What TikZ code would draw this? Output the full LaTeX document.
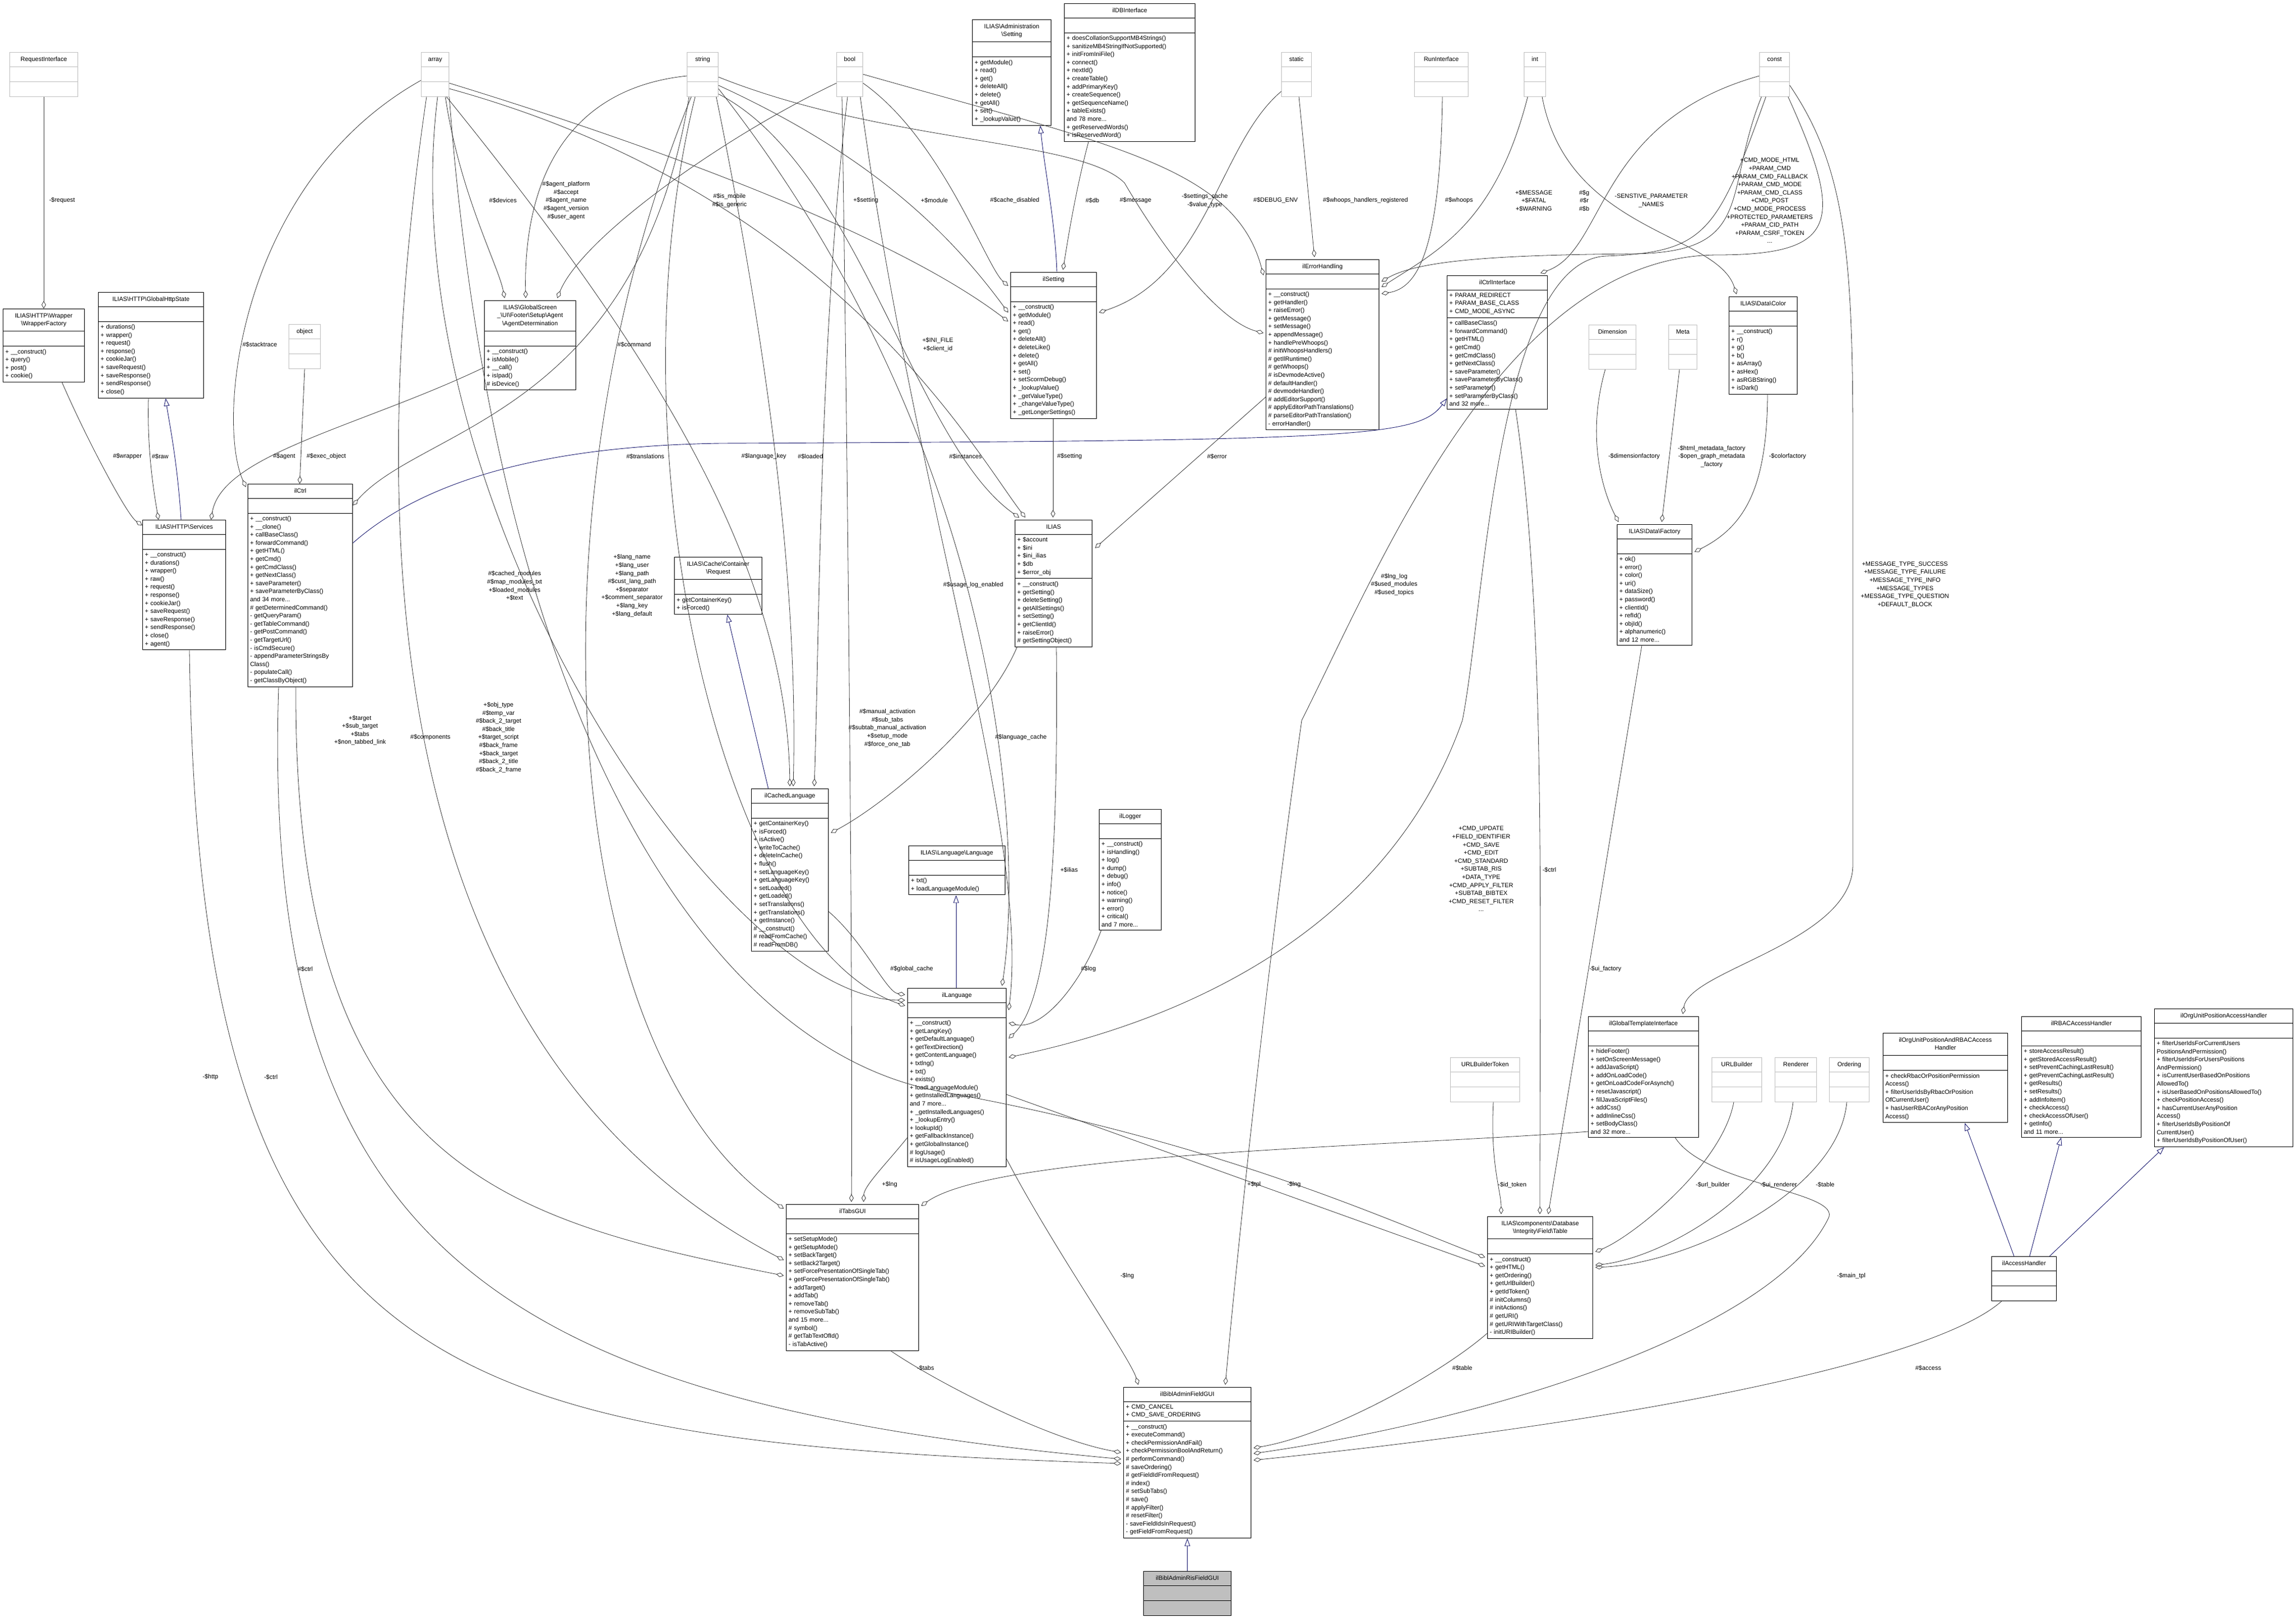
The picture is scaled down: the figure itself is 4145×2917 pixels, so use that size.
\documentclass[tikz,border=0pt]{standalone}
\usepackage{fontspec}
\setmainfont{Liberation Sans}
\usetikzlibrary{shapes.multipart,arrows.meta,calc}
\newcommand\fs{\fontsize{11}{14.6}\selectfont}
\newcommand\bs{\textbackslash{}}
\newcommand\E{\rule{0pt}{16pt}}
\newcommand\T[1]{\makebox[\linewidth][c]{\begin{tabular}{@{}c@{}}#1\end{tabular}}}
\definecolor{midnight}{RGB}{25,25,112}
\definecolor{gbord}{RGB}{191,191,191}
\tikzset{
 cls/.style={draw=black, fill=white, rectangle split, rectangle split parts=3, anchor=north west, inner xsep=4pt, inner ysep=5pt, font=\fs, align=left, line width=1pt},
 gcls/.style={cls, draw=gbord},
 agg/.style={draw=black!80, line width=0.8pt, -{Diamond[open,length=14pt,width=8pt]}},
 inh/.style={draw=midnight, line width=0.9pt, -{Triangle[open,length=14pt,width=10pt]}},
 lbl/.style={font=\fs, align=center, inner sep=0pt}
}
\begin{document}
\begin{tikzpicture}[x=1pt,y=-1pt]
\useasboundingbox[fill=white] (0,0) rectangle (4145,2917);
% ---- gray type boxes
\node[gcls,text width=115pt] (reqi) at (17,94) {\T{RequestInterface}\nodepart{two}\E\nodepart{three}\E};
\node[gcls,text width=42pt] (array) at (760,94) {\T{array}\nodepart{two}\E\nodepart{three}\E};
\node[gcls,text width=48pt] (string) at (1240,94) {\T{string}\nodepart{two}\E\nodepart{three}\E};
\node[gcls,text width=39pt] (bool) at (1510,94) {\T{bool}\nodepart{two}\E\nodepart{three}\E};
\node[gcls,text width=46pt] (static) at (2313,94) {\T{static}\nodepart{two}\E\nodepart{three}\E};
\node[gcls,text width=89pt] (runi) at (2553,94) {\T{RunInterface}\nodepart{two}\E\nodepart{three}\E};
\node[gcls,text width=31pt] (int) at (2751,94) {\T{int}\nodepart{two}\E\nodepart{three}\E};
\node[gcls,text width=46pt] (const) at (3176,94) {\T{const}\nodepart{two}\E\nodepart{three}\E};
\node[gcls,text width=49pt] (object) at (521,585) {\T{object}\nodepart{two}\E\nodepart{three}\E};
\node[gcls,text width=77pt] (dim) at (2868,586) {\T{Dimension}\nodepart{two}\E\nodepart{three}\E};
\node[gcls,text width=43pt] (meta) at (3012,586) {\T{Meta}\nodepart{two}\E\nodepart{three}\E};
\node[gcls,text width=117pt] (ubt) at (2618,1908) {\T{URLBuilderToken}\nodepart{two}\E\nodepart{three}\E};
\node[gcls,text width=82pt] (ub) at (3090,1908) {\T{URLBuilder}\nodepart{two}\E\nodepart{three}\E};
\node[gcls,text width=67pt] (rend) at (3204,1908) {\T{Renderer}\nodepart{two}\E\nodepart{three}\E};
\node[gcls,text width=64pt] (ord) at (3302,1908) {\T{Ordering}\nodepart{two}\E\nodepart{three}\E};
% ---- classes
\node[cls,text width=139pt] (wf) at (5,557) {\T{ILIAS\bs HTTP\bs Wrapper\\\bs WrapperFactory}\nodepart{two}\E\nodepart{three}+ \_\_construct()\\+ query()\\+ post()\\+ cookie()};
\node[cls,text width=182pt] (ghs) at (177,527) {\T{ILIAS\bs HTTP\bs GlobalHttpState}\nodepart{two}\E\nodepart{three}+ durations()\\+ wrapper()\\+ request()\\+ response()\\+ cookieJar()\\+ saveRequest()\\+ saveResponse()\\+ sendResponse()\\+ close()};
\node[cls,text width=157pt] (agent) at (874,542) {\T{ILIAS\bs GlobalScreen\\\_\bs UI\bs Footer\bs Setup\bs Agent\\\bs AgentDetermination}\nodepart{two}\E\nodepart{three}+ \_\_construct()\\+ isMobile()\\+ \_\_call()\\+ isIpad()\\\# isDevice()};
\node[cls,text width=181pt] (ctrl) at (447,873) {\T{ilCtrl}\nodepart{two}\E\nodepart{three}+ \_\_construct()\\+ \_\_clone()\\+ callBaseClass()\\+ forwardCommand()\\+ getHTML()\\+ getCmd()\\+ getCmdClass()\\+ getNextClass()\\+ saveParameter()\\+ saveParameterByClass()\\and 34 more...\\\# getDeterminedCommand()\\- getQueryParam()\\- getTableCommand()\\- getPostCommand()\\- getTargetUrl()\\- isCmdSecure()\\- appendParameterStringsBy\\Class()\\- populateCall()\\- getClassByObject()};
\node[cls,text width=142pt] (http) at (257,938) {\T{ILIAS\bs HTTP\bs Services}\nodepart{two}\E\nodepart{three}+ \_\_construct()\\+ durations()\\+ wrapper()\\+ raw()\\+ request()\\+ response()\\+ cookieJar()\\+ saveRequest()\\+ saveResponse()\\+ sendResponse()\\+ close()\\+ agent()};
\node[cls,text width=150pt] (creq) at (1217,1005) {\T{ILIAS\bs Cache\bs Container\\\bs Request}\nodepart{two}\E\nodepart{three}+ getContainerKey()\\+ isForced()};
\node[cls,text width=134pt] (aset) at (1755,35) {\T{ILIAS\bs Administration\\\bs Setting}\nodepart{two}\E\nodepart{three}+ getModule()\\+ read()\\+ get()\\+ deleteAll()\\+ delete()\\+ getAll()\\+ set()\\+ \_lookupValue()};
\node[cls,text width=228pt] (db) at (1921,6) {\T{ilDBInterface}\nodepart{two}\E\nodepart{three}+ doesCollationSupportMB4Strings()\\+ sanitizeMB4StringIfNotSupported()\\+ initFromIniFile()\\+ connect()\\+ nextId()\\+ createTable()\\+ addPrimaryKey()\\+ createSequence()\\+ getSequenceName()\\+ tableExists()\\and 78 more...\\+ getReservedWords()\\+ isReservedWord()};
\node[cls,text width=147pt] (set) at (1824,491) {\T{ilSetting}\nodepart{two}\E\nodepart{three}+ \_\_construct()\\+ getModule()\\+ read()\\+ get()\\+ deleteAll()\\+ deleteLike()\\+ delete()\\+ getAll()\\+ set()\\+ setScormDebug()\\+ \_lookupValue()\\+ \_getValueType()\\+ \_changeValueType()\\+ \_getLongerSettings()};
\node[cls,text width=196pt] (eh) at (2285,468) {\T{ilErrorHandling}\nodepart{two}\E\nodepart{three}+ \_\_construct()\\+ getHandler()\\+ raiseError()\\+ getMessage()\\+ setMessage()\\+ appendMessage()\\+ handlePreWhoops()\\\# initWhoopsHandlers()\\\# getIlRuntime()\\\# getWhoops()\\\# isDevmodeActive()\\\# defaultHandler()\\\# devmodeHandler()\\\# addEditorSupport()\\\# applyEditorPathTranslations()\\\# parseEditorPathTranslation()\\- errorHandler()};
\node[cls,text width=131pt] (ilias) at (1832,938) {\T{ILIAS}\nodepart{two}+ \$account\\+ \$ini\\+ \$ini\_ilias\\+ \$db\\+ \$error\_obj\nodepart{three}+ \_\_construct()\\+ getSetting()\\+ deleteSetting()\\+ getAllSettings()\\+ setSetting()\\+ getClientId()\\+ raiseError()\\\# getSettingObject()};
\node[cls,text width=173pt] (ctrli) at (2612,497) {\T{ilCtrlInterface}\nodepart{two}+ PARAM\_REDIRECT\\+ PARAM\_BASE\_CLASS\\+ CMD\_MODE\_ASYNC\nodepart{three}+ callBaseClass()\\+ forwardCommand()\\+ getHTML()\\+ getCmd()\\+ getCmdClass()\\+ getNextClass()\\+ saveParameter()\\+ saveParameterByClass()\\+ setParameter()\\+ setParameterByClass()\\and 32 more...};
\node[cls,text width=115pt] (color) at (3121,535) {\T{ILIAS\bs Data\bs Color}\nodepart{two}\E\nodepart{three}+ \_\_construct()\\+ r()\\+ g()\\+ b()\\+ asArray()\\+ asHex()\\+ asRGBString()\\+ isDark()};
\node[cls,text width=127pt] (fac) at (2919,946) {\T{ILIAS\bs Data\bs Factory}\nodepart{two}\E\nodepart{three}+ ok()\\+ error()\\+ color()\\+ uri()\\+ dataSize()\\+ password()\\+ clientId()\\+ refId()\\+ objId()\\+ alphanumeric()\\and 12 more...};
\node[cls,text width=131pt] (cl) at (1356,1423) {\T{ilCachedLanguage}\nodepart{two}\E\nodepart{three}+ getContainerKey()\\+ isForced()\\+ isActive()\\+ writeToCache()\\+ deleteInCache()\\+ flush()\\+ setLanguageKey()\\+ getLanguageKey()\\+ setLoaded()\\+ getLoaded()\\+ setTranslations()\\+ getTranslations()\\+ getInstance()\\\# \_\_construct()\\\# readFromCache()\\\# readFromDB()};
\node[cls,text width=166pt] (ll) at (1640,1526) {\T{ILIAS\bs Language\bs Language}\nodepart{two}\E\nodepart{three}+ txt()\\+ loadLanguageModule()};
\node[cls,text width=104pt] (log) at (1984,1460) {\T{ilLogger}\nodepart{two}\E\nodepart{three}+ \_\_construct()\\+ isHandling()\\+ log()\\+ dump()\\+ debug()\\+ info()\\+ notice()\\+ warning()\\+ error()\\+ critical()\\and 7 more...};
\node[cls,text width=170pt] (lng) at (1638,1783) {\T{ilLanguage}\nodepart{two}\E\nodepart{three}+ \_\_construct()\\+ getLangKey()\\+ getDefaultLanguage()\\+ getTextDirection()\\+ getContentLanguage()\\+ txtlng()\\+ txt()\\+ exists()\\+ loadLanguageModule()\\+ getInstalledLanguages()\\and 7 more...\\+ \_getInstalledLanguages()\\+ \_lookupEntry()\\+ lookupId()\\+ getFallbackInstance()\\+ getGlobalInstance()\\\# logUsage()\\\# isUsageLogEnabled()};
\node[cls,text width=231pt] (tabs) at (1419,2173) {\T{ilTabsGUI}\nodepart{two}\E\nodepart{three}+ setSetupMode()\\+ getSetupMode()\\+ setBackTarget()\\+ setBack2Target()\\+ setForcePresentationOfSingleTab()\\+ getForcePresentationOfSingleTab()\\+ addTarget()\\+ addTab()\\+ removeTab()\\+ removeSubTab()\\and 15 more...\\\# symbol()\\\# getTabTextOfId()\\- isTabActive()};
\node[cls,text width=222pt] (bibl) at (2028,2503) {\T{ilBiblAdminFieldGUI}\nodepart{two}+ CMD\_CANCEL\\+ CMD\_SAVE\_ORDERING\nodepart{three}+ \_\_construct()\\+ executeCommand()\\+ checkPermissionAndFail()\\+ checkPermissionBoolAndReturn()\\\# performCommand()\\\# saveOrdering()\\\# getFieldIdFromRequest()\\\# index()\\\# setSubTabs()\\\# save()\\\# applyFilter()\\\# resetFilter()\\- saveFieldIdsInRequest()\\- getFieldFromRequest()};
\node[cls,fill=gbord,text width=150pt] (ris) at (2064,2835) {\T{ilBiblAdminRisFieldGUI}\nodepart{two}\E\nodepart{three}\E};
\node[cls,text width=182pt] (tbl) at (2685,2195) {\T{ILIAS\bs components\bs Database\\\bs Integrity\bs Field\bs Table}\nodepart{two}\E\nodepart{three}+ \_\_construct()\\+ getHTML()\\+ getOrdering()\\+ getUrlBuilder()\\+ getIdToken()\\\# initColumns()\\\# initActions()\\\# getURI()\\\# getURIWithTargetClass()\\- initURIBuilder()};
\node[cls,text width=191pt] (gti) at (2867,1834) {\T{ilGlobalTemplateInterface}\nodepart{two}\E\nodepart{three}+ hideFooter()\\+ setOnScreenMessage()\\+ addJavaScript()\\+ addOnLoadCode()\\+ getOnLoadCodeForAsynch()\\+ resetJavascript()\\+ fillJavaScriptFiles()\\+ addCss()\\+ addInlineCss()\\+ setBodyClass()\\and 32 more...};
\node[cls,text width=217pt] (orgrbac) at (3399,1864) {\T{ilOrgUnitPositionAndRBACAccess\\Handler}\nodepart{two}\E\nodepart{three}+ checkRbacOrPositionPermission\\Access()\\+ filterUserIdsByRbacOrPosition\\OfCurrentUser()\\+ hasUserRBACorAnyPosition\\Access()};
\node[cls,text width=208pt] (rbac) at (3649,1834) {\T{ilRBACAccessHandler}\nodepart{two}\E\nodepart{three}+ storeAccessResult()\\+ getStoredAccessResult()\\+ setPreventCachingLastResult()\\+ getPreventCachingLastResult()\\+ getResults()\\+ setResults()\\+ addInfoItem()\\+ checkAccess()\\+ checkAccessOfUser()\\+ getInfo()\\and 11 more...};
\node[cls,text width=242pt] (orgpos) at (3889,1820) {\T{ilOrgUnitPositionAccessHandler}\nodepart{two}\E\nodepart{three}+ filterUserIdsForCurrentUsers\\PositionsAndPermission()\\+ filterUserIdsForUsersPositions\\AndPermission()\\+ isCurrentUserBasedOnPositions\\AllowedTo()\\+ isUserBasedOnPositionsAllowedTo()\\+ checkPositionAccess()\\+ hasCurrentUserAnyPosition\\Access()\\+ filterUserIdsByPositionOf\\CurrentUser()\\+ filterUserIdsByPositionOfUser()};
\node[cls,text width=109pt] (ah) at (3595,2267) {\T{ilAccessHandler}\nodepart{two}\E\nodepart{three}\E};
% ---- inheritance
\draw[inh] ($(http.north west)+(70,0)$) .. controls (320,830) and (305,760) .. ($(ghs.south west)+(122,0)$);
\draw[inh] ($(ctrl.north east)+(0,107)$) .. controls (750,880) and (950,805) .. (1300,800) .. controls (2450,795) and (2560,790) .. ($(ctrli.north west)+(0,222)$);
\draw[inh] ($(set.north west)+(84,0)$) .. controls (1905,400) and (1885,300) .. ($(aset.south west)+(123,0)$);
\draw[inh] ($(cl.north west)+(31,0)$) -- ($(creq.south west)+(96,0)$);
\draw[inh] ($(lng.north west)+(88,0)$) -- ($(ll.south west)+(86,0)$);
\draw[inh] (ris.north) -- (bibl.south);
\draw[inh] ($(ah.north west)+(41,0)$) -- ($(orgrbac.south west)+(148,0)$);
\draw[inh] ($(ah.north west)+(69,0)$) -- ($(rbac.south west)+(72,0)$);
\draw[inh] ($(ah.north west)+(105,0)$) -- ($(orgpos.south west)+(18,0)$);
% ---- aggregation
\draw[agg] (reqi.south) -- (wf.north);
\draw[agg] ($(wf.south west)+(107,0)$) .. controls (160,800) and (230,930) .. ($(http.north west)+(0,10)$);
\draw[agg] ($(ghs.south west)+(91,0)$) .. controls (265,820) and (280,900) .. ($(http.north west)+(29,0)$);
\draw[agg] ($(agent.north west)+(0,121)$) .. controls (650,770) and (400,820) .. ($(http.north west)+(124,0)$);
\draw[agg] (object.south) -- ($(ctrl.north west)+(94,0)$);
\draw[agg] ($(array.north west)+(0,51)$) .. controls (430,330) and (390,760) .. ($(ctrl.north west)+(-3,6)$);
\draw[agg] ($(string.south west)+(4,0)$) .. controls (1150,750) and (760,770) .. ($(ctrl.north east)+(0,39)$);
\draw[agg] ($(array.south west)+(44,0)$) .. controls (830,350) and (900,480) .. ($(agent.north west)+(37,-4)$);
\draw[agg] ($(string.north west)+(0,43)$) .. controls (1020,160) and (945,330) .. ($(agent.north west)+(75,-4)$);
\draw[agg] ($(bool.north west)+(0,56)$) .. controls (1300,250) and (1050,430) .. ($(agent.north west)+(132,-4)$);
\draw[agg] ($(array.north east)+(0,56)$) .. controls (1300,300) and (1650,450) .. ($(set.north west)+(-4,89)$);
\draw[agg] ($(string.north east)+(0,60)$) .. controls (1550,270) and (1700,400) .. ($(set.north west)+(-4,73)$);
\draw[agg] ($(bool.north east)+(0,56)$) .. controls (1700,250) and (1780,480) .. ($(set.north west)+(-4,25)$);
\draw[agg] ($(db.south west)+(44,0)$) .. controls (1940,350) and (1925,450) .. ($(set.north west)+(95,-4)$);
\draw[agg] ($(static.north west)+(0,71)$) .. controls (2200,260) and (2180,500) .. ($(set.north east)+(4,73)$);
\draw[agg] ($(string.north east)+(0,45)$) .. controls (1600,260) and (1950,250) .. (2030,330) .. controls (2100,450) and (2200,580) .. ($(eh.north west)+(-4,133)$);
\draw[agg] ($(bool.north east)+(0,40)$) .. controls (2000,260) and (2230,300) .. ($(eh.north west)+(-4,29)$);
\draw[agg] ($(static.south west)+(32,0)$) -- ($(eh.north west)+(88,-4)$);
\draw[agg] ($(runi.south west)+(51,0)$) .. controls (2600,450) and (2560,520) .. ($(eh.north east)+(4,62)$);
\draw[agg] ($(int.south west)+(7,0)$) .. controls (2700,400) and (2600,450) .. ($(eh.north east)+(4,50)$);
\draw[agg] ($(int.south east)+(-7,0)$) .. controls (2830,420) and (3100,420) .. ($(color.north west)+(14,-4)$);
\draw[agg] ($(const.north west)+(0,43)$) .. controls (2880,220) and (2900,450) .. ($(ctrli.north east)+(-13,-4)$);
\draw[agg] ($(const.south west)+(4,0)$) .. controls (3110,350) and (3170,455) .. (2950,458) .. controls (2700,460) and (2560,470) .. ($(eh.north east)+(4,40)$);
\draw[agg] ($(set.south west)+(77,0)$) -- ($(ilias.north west)+(69,-4)$);
\draw[agg] ($(eh.south west)+(0,-60)$) -- ($(ilias.north east)+(5,51)$);
\draw[agg] ($(array.north east)+(0,66)$) .. controls (1500,350) and (1750,800) .. ($(ilias.north west)+(19,-4)$);
\draw[agg] ($(string.south east)+(0,-5)$) .. controls (1550,300) and (1650,800) .. ($(ilias.north west)+(8,-4)$);
\draw[agg] ($(ilias.south west)+(75,0)$) .. controls (1910,1500) and (1900,1800) .. ($(lng.north east)+(4,91)$);
\draw[agg] ($(ilias.south west)+(4,0)$) .. controls (1780,1300) and (1600,1450) .. ($(cl.north east)+(4,80)$);
\draw[agg] ($(cl.north east)+(0,222)$) .. controls (1560,1700) and (1600,1790) .. ($(lng.north west)+(-4,12)$);
\draw[agg] ($(array.south east)+(-5,0)$) .. controls (1150,600) and (1420,1000) .. ($(cl.north west)+(70,-4)$);
\draw[agg] ($(string.south east)+(-4,0)$) .. controls (1400,700) and (1440,1100) .. ($(cl.north west)+(76,-4)$);
\draw[agg] ($(bool.south west)+(20,0)$) .. controls (1480,600) and (1480,1100) .. ($(cl.north west)+(114,-4)$);
\draw[agg] ($(log.south west)+(4,0)$) .. controls (1950,1780) and (1880,1860) .. ($(lng.north east)+(4,63)$);
\draw[agg] ($(array.south west)+(30,0)$) .. controls (700,900) and (1300,1800) .. ($(lng.north west)+(-4,22)$);
\draw[agg] ($(string.south west)+(15,0)$) .. controls (1100,800) and (1300,1700) .. ($(lng.north west)+(-4,32)$);
\draw[agg] ($(string.north east)+(0,66)$) .. controls (1800,800) and (1850,1500) .. ($(lng.north east)+(-8,-4)$);
\draw[agg] ($(bool.south east)+(-5,0)$) .. controls (1650,900) and (1860,1500) .. ($(lng.north east)+(4,40)$);
\draw[agg] ($(const.south west)+(12,0)$) .. controls (3100,420) and (3080,455) .. (2900,462) .. controls (2700,470) and (2680,1100) .. (2640,1300) .. controls (2500,1700) and (2100,1850) .. ($(lng.north east)+(4,125)$);
\draw[agg] ($(const.south east)+(-3,0)$) .. controls (3330,400) and (3320,460) .. (3100,460) .. controls (2720,462) and (2500,1000) .. (2350,1300) .. controls (2280,1800) and (2230,2300) .. ($(bibl.north east)+(-47,-4)$);
\draw[agg] ($(ctrl.south west)+(87,0)$) .. controls (530,2100) and (900,2200) .. ($(tabs.north west)+(-4,129)$);
\draw[agg] ($(array.south west)+(10,0)$) .. controls (650,1000) and (700,1900) .. ($(tabs.north west)+(-4,101)$);
\draw[agg] ($(string.south west)+(8,0)$) .. controls (950,900) and (1000,1900) .. ($(tabs.north west)+(-4,8)$);
\draw[agg] ($(bool.south west)+(10,0)$) .. controls (1530,800) and (1540,1800) .. ($(tabs.north west)+(118,-4)$);
\draw[agg] ($(lng.north west)+(0,270)$) .. controls (1600,2100) and (1560,2140) .. ($(tabs.north west)+(140,-4)$);
\draw[agg] ($(gti.north west)+(0,208)$) .. controls (2500,2070) and (1800,2080) .. ($(tabs.north east)+(4,3)$);
\draw[agg] ($(lng.north east)+(0,192)$) -- ($(tbl.north west)+(-4,90)$);
\draw[agg] ($(array.south east)+(0,0)$) .. controls (900,1350) and (1300,1900) .. (1700,1970) .. controls (2200,2060) and (2500,2200) .. ($(tbl.north west)+(-4,74)$);
\draw[agg] ($(tabs.south west)+(189,0)$) .. controls (1700,2500) and (1900,2600) .. ($(bibl.north west)+(-4,118)$);
\draw[agg] ($(lng.south east)+(0,-15)$) .. controls (1900,2250) and (2040,2450) .. ($(bibl.north west)+(27,-4)$);
\draw[agg] ($(http.south west)+(85,0)$) .. controls (358,2500) and (800,2600) .. ($(bibl.north west)+(-4,138)$);
\draw[agg] ($(ctrl.south west)+(56,0)$) .. controls (470,2250) and (900,2530) .. ($(bibl.north west)+(-4,130)$);
\draw[agg] ($(tbl.south west)+(0,-10)$) .. controls (2600,2480) and (2400,2590) .. ($(bibl.north east)+(4,110)$);
\draw[agg] ($(gti.south west)+(157,0)$) .. controls (3080,2140) and (3330,2150) .. (3300,2200) .. controls (3200,2400) and (2700,2560) .. ($(bibl.north east)+(4,120)$);
\draw[agg] ($(ah.south west)+(19,0)$) .. controls (3500,2450) and (3000,2560) .. ($(bibl.north east)+(4,132)$);
\draw[agg] ($(ctrli.south west)+(124,0)$) .. controls (2790,1100) and (2780,1600) .. ($(tbl.north west)+(95,-4)$);
\draw[agg] ($(fac.south west)+(45,0)$) -- ($(tbl.north west)+(110,-4)$);
\draw[agg] ($(ubt.south west)+(78,0)$) .. controls (2690,2100) and (2710,2150) .. ($(tbl.north west)+(25,-4)$);
\draw[agg] ($(ub.south west)+(40,0)$) .. controls (3110,2100) and (2950,2230) .. ($(tbl.north east)+(4,64)$);
\draw[agg] ($(rend.south west)+(33,0)$) .. controls (3220,2150) and (3000,2270) .. ($(tbl.north east)+(4,88)$);
\draw[agg] ($(ord.south west)+(32,0)$) .. controls (3320,2150) and (3050,2280) .. ($(tbl.north east)+(4,92)$);
\draw[agg] ($(dim.south west)+(30,0)$) .. controls (2860,800) and (2900,900) .. ($(fac.north west)+(3,-4)$);
\draw[agg] ($(meta.south west)+(20,0)$) -- ($(fac.north west)+(81,-4)$);
\draw[agg] ($(color.south west)+(70,0)$) .. controls (3190,880) and (3150,950) .. ($(fac.north east)+(4,50)$);
\draw[agg] ($(const.north east)+(0,60)$) .. controls (3330,300) and (3345,450) .. (3345,800) -- (3345,1560) .. controls (3345,1700) and (3050,1750) .. ($(gti.north west)+(171,-4)$);
% ---- labels
\node[lbl] (n1) at (112,362) {-\$request};
\node[lbl] (n2) at (908,362) {\#\$devices};
\node[lbl] (n3) at (1022,362) {\#\$agent\_platform\\\#\$accept\\\#\$agent\_name\\\#\$agent\_version\\\#\$user\_agent};
\node[lbl] (n4) at (1317,362) {\#\$is\_mobile\\\#\$is\_generic};
\node[lbl] (n5) at (469,622) {\#\$stacktrace};
\node[lbl] (n6) at (1145,622) {\#\$command};
\node[lbl] (n7) at (230,824) {\#\$wrapper};
\node[lbl] (n8) at (289,824) {\#\$raw};
\node[lbl] (n9) at (513,824) {\#\$agent};
\node[lbl] (n10) at (589,824) {\#\$exec\_object};
\node[lbl] (n11) at (1165,824) {\#\$translations};
\node[lbl] (n12) at (1379,824) {\#\$language\_key};
\node[lbl] (n13) at (1463,824) {\#\$loaded};
\node[lbl] (n14) at (929,1057) {\#\$cached\_modules\\\#\$map\_modules\_txt\\+\$loaded\_modules\\+\$text};
\node[lbl] (n15) at (1141,1057) {+\$lang\_name\\+\$lang\_user\\+\$lang\_path\\\#\$cust\_lang\_path\\+\$separator\\+\$comment\_separator\\+\$lang\_key\\+\$lang\_default};
\node[lbl] (n16) at (1563,362) {+\$setting};
\node[lbl] (n17) at (1687,362) {+\$module};
\node[lbl] (n18) at (1832,362) {\#\$cache\_disabled};
\node[lbl] (n19) at (1972,362) {\#\$db};
\node[lbl] (n20) at (2050,362) {\#\$message};
\node[lbl] (n21) at (2175,362) {-\$settings\_cache\\-\$value\_type};
\node[lbl] (n22) at (2303,362) {\#\$DEBUG\_ENV};
\node[lbl] (n23) at (2465,362) {\#\$whoops\_handlers\_registered};
\node[lbl] (n24) at (2634,362) {\#\$whoops};
\node[lbl] (n25) at (1693,622) {+\$INI\_FILE\\+\$client\_id};
\node[lbl] (n26) at (1743,824) {\#\$instances};
\node[lbl] (n27) at (1931,824) {\#\$setting};
\node[lbl] (n28) at (2197,824) {\#\$error};
\node[lbl] (n29) at (1757,1056) {\#\$usage\_log\_enabled};
\node[lbl] (n30) at (2517,1055) {\#\$lng\_log\\\#\$used\_modules\\\#\$used\_topics};
\node[lbl] (n31) at (2769,362) {+\$MESSAGE\\+\$FATAL\\+\$WARNING};
\node[lbl] (n32) at (2860,362) {\#\$g\\\#\$r\\\#\$b};
\node[lbl] (n33) at (2981,362) {-SENSTIVE\_PARAMETER\\\_NAMES};
\node[lbl] (n34) at (3195,362) {+CMD\_MODE\_HTML\\+PARAM\_CMD\\+PARAM\_CMD\_FALLBACK\\+PARAM\_CMD\_MODE\\+PARAM\_CMD\_CLASS\\+CMD\_POST\\+CMD\_MODE\_PROCESS\\+PROTECTED\_PARAMETERS\\+PARAM\_CID\_PATH\\+PARAM\_CSRF\_TOKEN\\...};
\node[lbl] (n35) at (2950,824) {-\$dimensionfactory};
\node[lbl] (n36) at (3090,824) {-\$html\_metadata\_factory\\-\$open\_graph\_metadata\\\_factory};
\node[lbl] (n37) at (3227,824) {-\$colorfactory};
\node[lbl] (n38) at (3439,1055) {+MESSAGE\_TYPE\_SUCCESS\\+MESSAGE\_TYPE\_FAILURE\\+MESSAGE\_TYPE\_INFO\\+MESSAGE\_TYPES\\+MESSAGE\_TYPE\_QUESTION\\+DEFAULT\_BLOCK};
\node[lbl] (n39) at (650,1318) {+\$target\\+\$sub\_target\\+\$tabs\\+\$non\_tabbed\_link};
\node[lbl] (n40) at (777,1331) {\#\$components};
\node[lbl] (n41) at (900,1331) {+\$obj\_type\\\#\$temp\_var\\\#\$back\_2\_target\\\#\$back\_title\\+\$target\_script\\\#\$back\_frame\\+\$back\_target\\\#\$back\_2\_title\\\#\$back\_2\_frame};
\node[lbl] (n42) at (551,1749) {\#\$ctrl};
\node[lbl] (n43) at (380,1944) {-\$http};
\node[lbl] (n44) at (489,1944) {-\$ctrl};
\node[lbl] (n45) at (1602,1314) {\#\$manual\_activation\\\#\$sub\_tabs\\\#\$subtab\_manual\_activation\\+\$setup\_mode\\\#\$force\_one\_tab};
\node[lbl] (n46) at (1843,1331) {\#\$language\_cache};
\node[lbl] (n47) at (1930,1570) {+\$ilias};
\node[lbl] (n48) at (1646,1749) {\#\$global\_cache};
\node[lbl] (n49) at (1965,1749) {\#\$log};
\node[lbl] (n50) at (1606,2138) {+\$lng};
\node[lbl] (n51) at (2264,2138) {+\$tpl};
\node[lbl] (n52) at (2336,2138) {-\$lng};
\node[lbl] (n53) at (2035,2303) {-\$lng};
\node[lbl] (n54) at (1671,2469) {-\$tabs};
\node[lbl] (n55) at (2640,2469) {\#\$table};
\node[lbl] (n56) at (2674,1568) {+CMD\_UPDATE\\+FIELD\_IDENTIFIER\\+CMD\_SAVE\\+CMD\_EDIT\\+CMD\_STANDARD\\+SUBTAB\_RIS\\+DATA\_TYPE\\+CMD\_APPLY\_FILTER\\+SUBTAB\_BIBTEX\\+CMD\_RESET\_FILTER\\...};
\node[lbl] (n57) at (2797,1570) {-\$ctrl};
\node[lbl] (n58) at (2898,1749) {-\$ui\_factory};
\node[lbl] (n59) at (2730,2138) {-\$id\_token};
\node[lbl] (n60) at (3092,2138) {-\$url\_builder};
\node[lbl] (n61) at (3211,2138) {-\$ui\_renderer};
\node[lbl] (n62) at (3295,2138) {-\$table};
\node[lbl] (n63) at (3342,2303) {-\$main\_tpl};
\node[lbl] (n64) at (3481,2469) {\#\$access};
\end{tikzpicture}
\end{document}
